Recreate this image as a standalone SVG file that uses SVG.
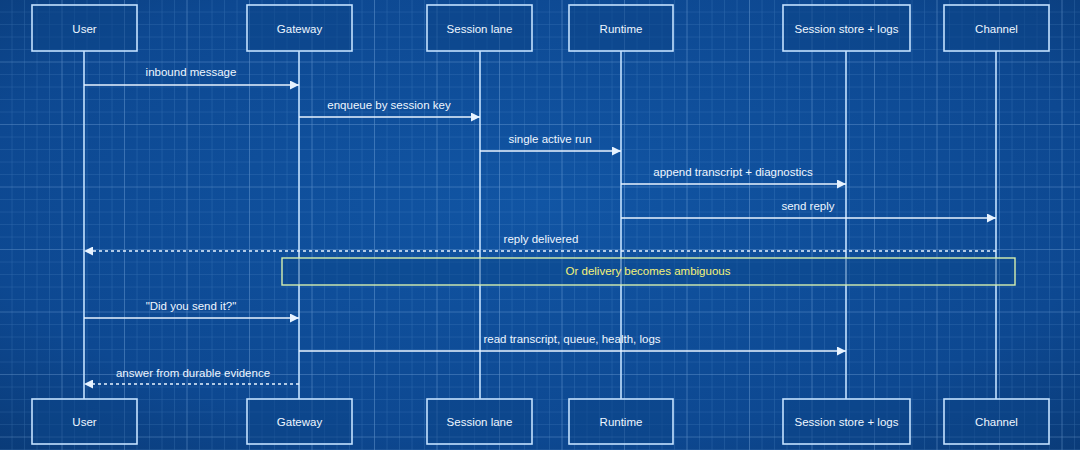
<svg xmlns="http://www.w3.org/2000/svg" width="1080" height="450" viewBox="0 0 1080 450">
  <defs>
    <radialGradient id="bg" cx="50%" cy="45%" r="75%">
      <stop offset="0" stop-color="#1155a4"/>
      <stop offset="0.7" stop-color="#0d4891"/>
      <stop offset="1" stop-color="#0a3b78"/>
    </radialGradient>
    <pattern id="minor" width="12.5" height="12.5" patternUnits="userSpaceOnUse">
      <path d="M12.5 0V12.5M0 12.5H12.5" fill="none" stroke="#8fc0f0" stroke-opacity="0.24" stroke-width="1"/>
    </pattern>
    <pattern id="major" width="62.5" height="62.5" patternUnits="userSpaceOnUse">
      <path d="M62.5 0V62.5M0 62.5H62.5" fill="none" stroke="#b8dcff" stroke-opacity="0.3" stroke-width="1.2"/>
    </pattern>
    <marker id="arr" viewBox="0 0 10 10" refX="10" refY="5" markerWidth="9" markerHeight="9" markerUnits="userSpaceOnUse" orient="auto">
      <path d="M0 0L10 5L0 10Z" fill="#e8f3ff"/>
    </marker>
    <style>
      .box { fill: #0c4689; fill-opacity: 0.55; stroke: #c4e2ff; stroke-width: 1.6; }
      .lbl { font-family: "Liberation Sans", Arial, sans-serif; font-size: 11.5px; fill: #eef6ff; text-anchor: middle; }
      .life { stroke: #c4e2ff; stroke-width: 1.6; fill: none; }
      .msg { stroke: #e8f3ff; stroke-width: 1.4; fill: none; marker-end: url(#arr); }
      .dash { stroke-dasharray: 3 3; }
      .note { fill: #0c4689; fill-opacity: 0.45; stroke: #d6f0b0; stroke-width: 1.4; }
      .notetxt { font-family: "Liberation Sans", Arial, sans-serif; font-size: 11.5px; fill: #f4f27a; text-anchor: middle; }
    </style>
  </defs>

  <rect width="1080" height="450" fill="url(#bg)"/>
  <rect width="1080" height="450" fill="url(#minor)"/>
  <rect width="1080" height="450" fill="url(#major)"/>

  <g id="lifelines">
    <line class="life" x1="84" y1="51" x2="84" y2="399"/>
    <line class="life" x1="299" y1="51" x2="299" y2="399"/>
    <line class="life" x1="480" y1="51" x2="480" y2="399"/>
    <line class="life" x1="621" y1="51" x2="621" y2="399"/>
    <line class="life" x1="846" y1="51" x2="846" y2="399"/>
    <line class="life" x1="996" y1="51" x2="996" y2="399"/>
  </g>

  <g id="user">
    <rect class="box" x="32" y="5" width="105" height="46"/>
    <text class="lbl" x="84.5" y="33">User</text>
    <rect class="box" x="32" y="399" width="105" height="45"/>
    <text class="lbl" x="84.5" y="426">User</text>
  </g>
  <g id="gateway">
    <rect class="box" x="247" y="5" width="105" height="46"/>
    <text class="lbl" x="299.5" y="33">Gateway</text>
    <rect class="box" x="247" y="399" width="105" height="45"/>
    <text class="lbl" x="299.5" y="426">Gateway</text>
  </g>
  <g id="session-lane">
    <rect class="box" x="427" y="5" width="105" height="46"/>
    <text class="lbl" x="479.5" y="33">Session lane</text>
    <rect class="box" x="427" y="399" width="105" height="45"/>
    <text class="lbl" x="479.5" y="426">Session lane</text>
  </g>
  <g id="runtime">
    <rect class="box" x="569" y="5" width="104" height="46"/>
    <text class="lbl" x="621" y="33">Runtime</text>
    <rect class="box" x="569" y="399" width="104" height="45"/>
    <text class="lbl" x="621" y="426">Runtime</text>
  </g>
  <g id="session-store">
    <rect class="box" x="783" y="5" width="127" height="46"/>
    <text class="lbl" x="846.5" y="33">Session store + logs</text>
    <rect class="box" x="783" y="399" width="127" height="45"/>
    <text class="lbl" x="846.5" y="426">Session store + logs</text>
  </g>
  <g id="channel">
    <rect class="box" x="944" y="5" width="105" height="46"/>
    <text class="lbl" x="996.5" y="33">Channel</text>
    <rect class="box" x="944" y="399" width="105" height="45"/>
    <text class="lbl" x="996.5" y="426">Channel</text>
  </g>

  <g id="note">
    <rect class="note" x="282" y="258" width="733" height="27"/>
    <text class="notetxt" x="648" y="275">Or delivery becomes ambiguous</text>
  </g>

  <g id="connectors">
    <line class="msg" x1="84" y1="85" x2="299" y2="85"/>
    <text class="lbl" x="191" y="76">inbound message</text>
    <line class="msg" x1="299" y1="117" x2="480" y2="117"/>
    <text class="lbl" x="389" y="109">enqueue by session key</text>
    <line class="msg" x1="480" y1="151" x2="621" y2="151"/>
    <text class="lbl" x="550" y="143">single active run</text>
    <line class="msg" x1="621" y1="184" x2="846" y2="184"/>
    <text class="lbl" x="733" y="176">append transcript + diagnostics</text>
    <line class="msg" x1="621" y1="218" x2="996" y2="218"/>
    <text class="lbl" x="808" y="210">send reply</text>
    <line class="msg dash" x1="996" y1="251" x2="84" y2="251"/>
    <text class="lbl" x="541" y="243">reply delivered</text>
    <line class="msg" x1="84" y1="318" x2="299" y2="318"/>
    <text class="lbl" x="191" y="310">"Did you send it?"</text>
    <line class="msg" x1="299" y1="351" x2="846" y2="351"/>
    <text class="lbl" x="572" y="343">read transcript, queue, health, logs</text>
    <line class="msg dash" x1="299" y1="384" x2="84" y2="384"/>
    <text class="lbl" x="193" y="377">answer from durable evidence</text>
  </g>
</svg>
